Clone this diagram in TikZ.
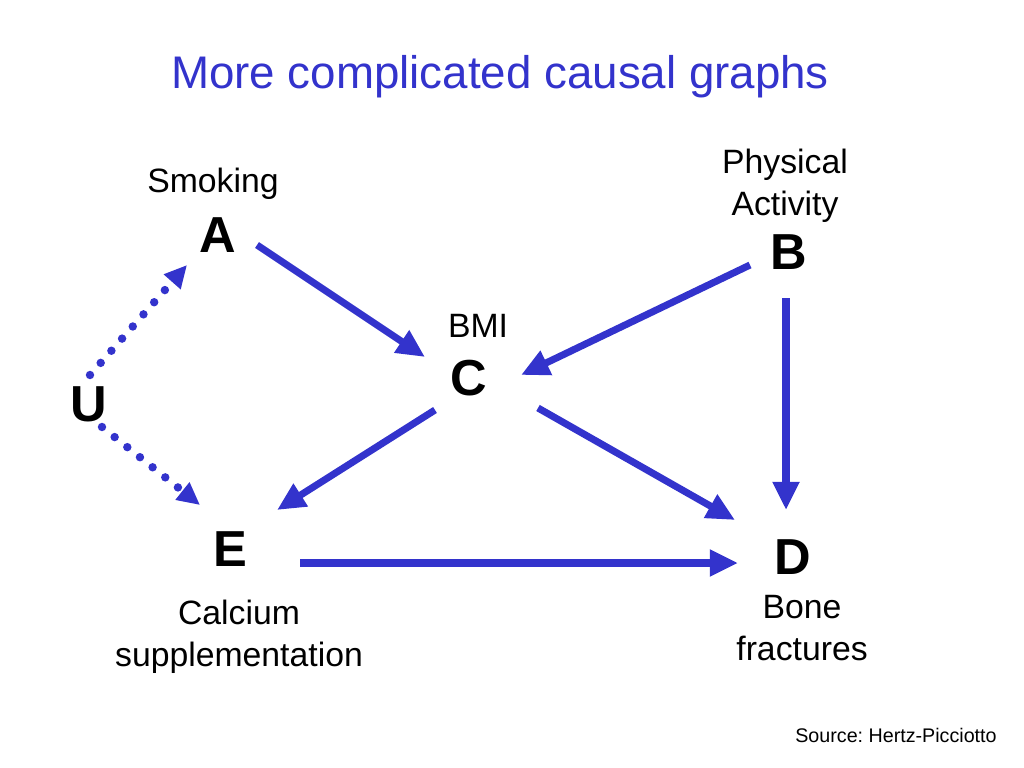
\documentclass[tikz,border=0pt]{standalone}
\usepackage{fontspec}
\setmainfont{Liberation Sans}
\usetikzlibrary{arrows.meta}
\definecolor{causalblue}{RGB}{51,51,204}
\frenchspacing

\begin{document}
\begin{tikzpicture}[
        x=0.025cm, y=-0.025cm,
        var/.style={
            font=\fontsize{36}{40}\selectfont\bfseries,
            inner sep=0pt,
        },
        label/.style={
            font=\fontsize{24}{30}\selectfont,
            align=center,
            inner sep=0pt,
        },
        causal/.style={
            draw=causalblue,
            line width=5pt,
            -{Triangle[length=20pt, width=18pt]},
        },
        latent/.style={
            draw=causalblue,
            line width=6pt,
            line cap=round,
            dash pattern=on 0pt off 11.5pt,
            -{Triangle[length=16pt, width=15pt, line cap=butt]},
        },
    ]

    \useasboundingbox (0, 0) rectangle (1024, 768);

    \node[font=\fontsize{32.5}{36}\selectfont, text=causalblue] (title) at (500, 77) {More complicated causal graphs};

    \node[label] (lA) at (213, 184) {Smoking};
    \node[var] (A) at (218, 235) {A};

    \node[label] (lB) at (785, 186) {Physical\\Activity};
    \node[var] (B) at (789, 252) {B};

    \node[label] (lC) at (478, 326) {BMI};
    \node[var] (C) at (469, 378) {C};

    \node[var] (U) at (89, 404) {U};

    \node[var] (E) at (230, 549) {E};
    \node[label] (lE) at (239, 637) {Calcium\\supplementation};

    \node[var] (D) at (793, 557) {D};
    \node[label] (lD) at (802, 628) {Bone\\fractures};

    \node[font=\fontsize{14}{16}\selectfont] (src) at (896, 735) {Source: Hertz-Picciotto};

    \draw[causal] ([shift={(39, 10)}]A.center) -- ([shift={(-44, -21)}]C.center);
    \draw[causal] ([shift={(-39, 13)}]B.center) -- ([shift={(52, -3)}]C.center);
    \draw[causal] ([shift={(-3, 46)}]B.center) -- ([shift={(-7, -47)}]D.center);
    \draw[causal] ([shift={(-34, 32)}]C.center) -- ([shift={(47, -39)}]E.center);
    \draw[causal] ([shift={(69, 30)}]C.center) -- ([shift={(-58, -37)}]D.center);
    \draw[causal] ([shift={(70, 14)}]E.center) -- ([shift={(-55, 6)}]D.center);

    \draw[latent] ([shift={(1, -29)}]U.center) -- ([shift={(-31, 30)}]A.center);
    \draw[latent] ([shift={(13, 23)}]U.center) -- ([shift={(-30, -44)}]E.center);
\end{tikzpicture}
\end{document}
